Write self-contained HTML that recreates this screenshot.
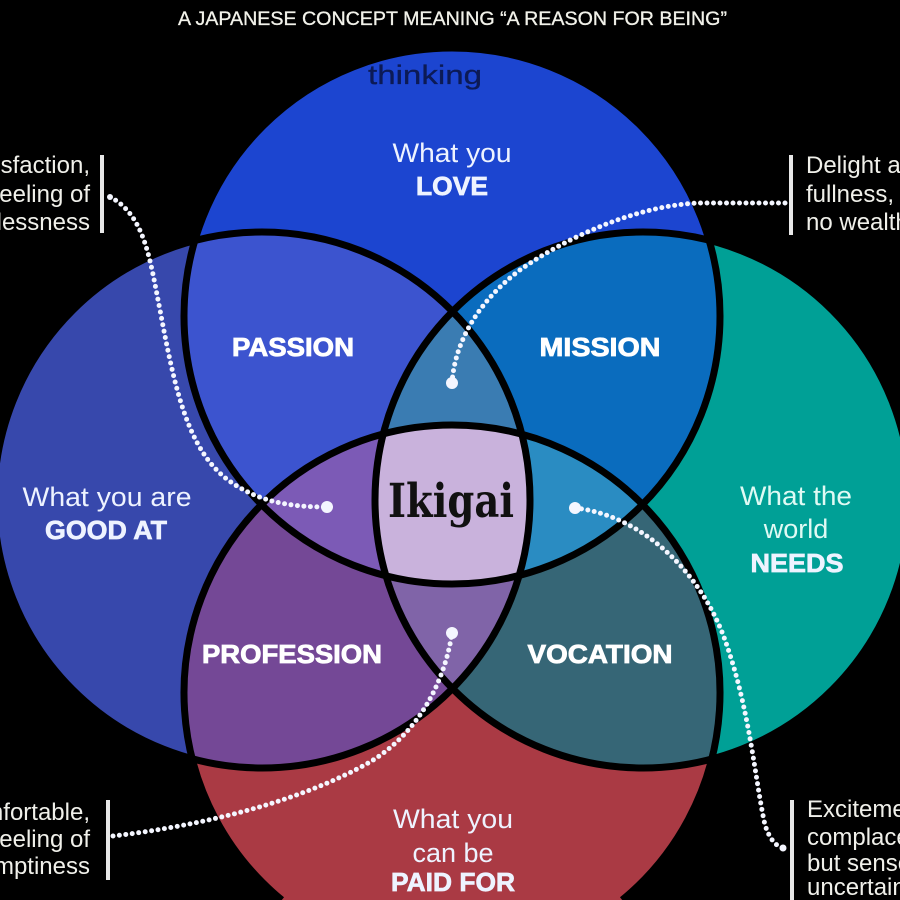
<!DOCTYPE html>
<html><head><meta charset="utf-8"><style>
html,body{margin:0;padding:0;background:#000;width:900px;height:900px;overflow:hidden;}
svg{display:block;}
</style></head><body>
<svg width="900" height="900" viewBox="0 0 900 900" xmlns="http://www.w3.org/2000/svg">
<defs>
<clipPath id="cT"><circle cx="452" cy="316" r="268"/></clipPath>
<clipPath id="cL"><circle cx="262" cy="500" r="268"/></clipPath>
<clipPath id="cR"><circle cx="643" cy="500" r="268"/></clipPath>
</defs>
<rect width="900" height="900" fill="#000"/>
<!-- single circles -->
<circle cx="452" cy="316" r="268" fill="#1c45d0"/>
<circle cx="262" cy="500" r="268" fill="#3748ac"/>
<circle cx="643" cy="500" r="268" fill="#00a096"/>
<path d="M281.8,900 A268,268 0 1 1 622.2,900 Z" fill="#aa3a44"/>
<!-- pairs -->
<circle cx="262" cy="500" r="268" fill="#3c54cf" clip-path="url(#cT)"/>
<circle cx="643" cy="500" r="268" fill="#0a6cbe" clip-path="url(#cT)"/>
<path d="M281.8,900 A268,268 0 1 1 622.2,900 Z" fill="#744896" clip-path="url(#cL)"/>
<path d="M281.8,900 A268,268 0 1 1 622.2,900 Z" fill="#366676" clip-path="url(#cR)"/>
<!-- triples -->
<g clip-path="url(#cT)"><circle cx="643" cy="500" r="268" fill="#3a7cb2" clip-path="url(#cL)"/></g>
<g clip-path="url(#cT)"><path d="M281.8,900 A268,268 0 1 1 622.2,900 Z" fill="#7c5ab6" clip-path="url(#cL)"/></g>
<g clip-path="url(#cT)"><path d="M281.8,900 A268,268 0 1 1 622.2,900 Z" fill="#2a8cc2" clip-path="url(#cR)"/></g>
<g clip-path="url(#cL)"><path d="M281.8,900 A268,268 0 1 1 622.2,900 Z" fill="#8064a8" clip-path="url(#cR)"/></g>
<!-- all four -->
<g clip-path="url(#cT)"><g clip-path="url(#cL)"><path d="M281.8,900 A268,268 0 1 1 622.2,900 Z" fill="#c9b2dc" clip-path="url(#cR)"/></g></g>
<!-- outlines -->
<g fill="none" stroke="#000" stroke-width="7">
<circle cx="452" cy="316" r="268"/>
<circle cx="262" cy="500" r="268"/>
<circle cx="643" cy="500" r="268"/>
<path d="M281.8,900 A268,268 0 1 1 622.2,900"/>
</g>

<!-- title -->
<text x="178" y="25" font-family="Liberation Sans, sans-serif" font-size="19" fill="#f2f2ea" stroke="#f2f2ea" stroke-width="0.3" textLength="549" lengthAdjust="spacingAndGlyphs">A JAPANESE CONCEPT MEANING “A REASON FOR BEING”</text>
<text x="368" y="84" font-family="Liberation Sans, sans-serif" font-size="27" fill="#0c1a55" stroke="#0c1a55" stroke-width="0.3" textLength="114" lengthAdjust="spacingAndGlyphs">thinking</text>

<!-- circle labels -->
<g font-family="Liberation Sans, sans-serif" fill="#eef3ff" text-anchor="middle">
<text x="452" y="162" font-size="27" textLength="119" lengthAdjust="spacingAndGlyphs">What you</text>
<text x="452" y="195" font-size="26" font-weight="bold" stroke="#eef3ff" stroke-width="0.7" textLength="72" lengthAdjust="spacingAndGlyphs">LOVE</text>
<text x="107" y="506" font-size="27" textLength="169" lengthAdjust="spacingAndGlyphs">What you are</text>
<text x="106" y="539" font-size="26" font-weight="bold" stroke="#eef3ff" stroke-width="0.7" textLength="122" lengthAdjust="spacingAndGlyphs">GOOD AT</text>
<text x="796" y="505" font-size="27" fill="#dffaf4" textLength="112" lengthAdjust="spacingAndGlyphs">What the</text>
<text x="796" y="538" font-size="27" fill="#dffaf4">world</text>
<text x="797" y="572" font-size="26" font-weight="bold" stroke="#eef3ff" stroke-width="0.7" textLength="93" lengthAdjust="spacingAndGlyphs">NEEDS</text>
<text x="453" y="828" font-size="27" textLength="120" lengthAdjust="spacingAndGlyphs">What you</text>
<text x="453" y="862" font-size="27">can be</text>
<text x="453" y="891" font-size="26" font-weight="bold" stroke="#eef3ff" stroke-width="0.7" textLength="124" lengthAdjust="spacingAndGlyphs">PAID FOR</text>
</g>
<g font-family="Liberation Sans, sans-serif" fill="#ffffff" stroke="#ffffff" stroke-width="0.8" font-weight="bold" font-size="26" text-anchor="middle">
<text x="293" y="356" textLength="122" lengthAdjust="spacingAndGlyphs">PASSION</text>
<text x="600" y="356" textLength="121" lengthAdjust="spacingAndGlyphs">MISSION</text>
<text x="292" y="663" textLength="180" lengthAdjust="spacingAndGlyphs">PROFESSION</text>
<text x="600" y="663" textLength="145" lengthAdjust="spacingAndGlyphs">VOCATION</text>
</g>
<text x="388" y="517" font-family="DejaVu Serif, Liberation Serif, serif" font-weight="bold" font-size="47" fill="#111" textLength="126" lengthAdjust="spacingAndGlyphs">Ikigai</text>

<!-- side texts -->
<g font-family="Liberation Sans, sans-serif" font-size="24" fill="#f0f0ea">
<text x="90" y="173" text-anchor="end">Satisfaction,</text>
<text x="90" y="202" text-anchor="end">but feeling of</text>
<text x="90" y="230" text-anchor="end">uselessness</text>
<text x="90" y="820" text-anchor="end">Comfortable,</text>
<text x="90" y="847" text-anchor="end">but feeling of</text>
<text x="90" y="874" text-anchor="end">emptiness</text>
<text x="806" y="173">Delight and</text>
<text x="806" y="202">fullness, but</text>
<text x="806" y="230">no wealth</text>
<text x="807" y="817">Excitement and</text>
<text x="807" y="845">complacency,</text>
<text x="807" y="871">but sense of</text>
<text x="807" y="895">uncertainty</text>
</g>
<g fill="#e8e8e8">
<rect x="100" y="155" width="4" height="78"/>
<rect x="106" y="800" width="4" height="80"/>
<rect x="789" y="155" width="4" height="80"/>
<rect x="790" y="800" width="4" height="100"/>
</g>

<!-- dotted connectors -->
<g fill="none" stroke="#f4f6ff" stroke-width="5" stroke-linecap="round" stroke-dasharray="0 6.5">
<path d="M110,197 C145,215 150,260 160,310 C175,390 188,450 228,480 C258,502 290,507 327,507"/>
<path d="M785,203 L700,203 C640,205 570,235 520,270 C480,300 455,340 452,383"/>
<path d="M575,508 C640,515 700,570 725,640 C750,710 755,780 765,825 C770,840 776,846 783,848"/>
<path d="M113,836 C200,826 300,802 370,762 C420,732 445,680 452,633"/>
</g>
<g fill="#f4f6ff">
<circle cx="327" cy="507" r="6"/>
<circle cx="452" cy="383" r="6"/>
<circle cx="575" cy="508" r="6"/>
<circle cx="452" cy="633" r="6"/>
<circle cx="110" cy="197" r="3"/>
<circle cx="783" cy="848" r="3.5"/>
</g>
</svg>
</body></html>
